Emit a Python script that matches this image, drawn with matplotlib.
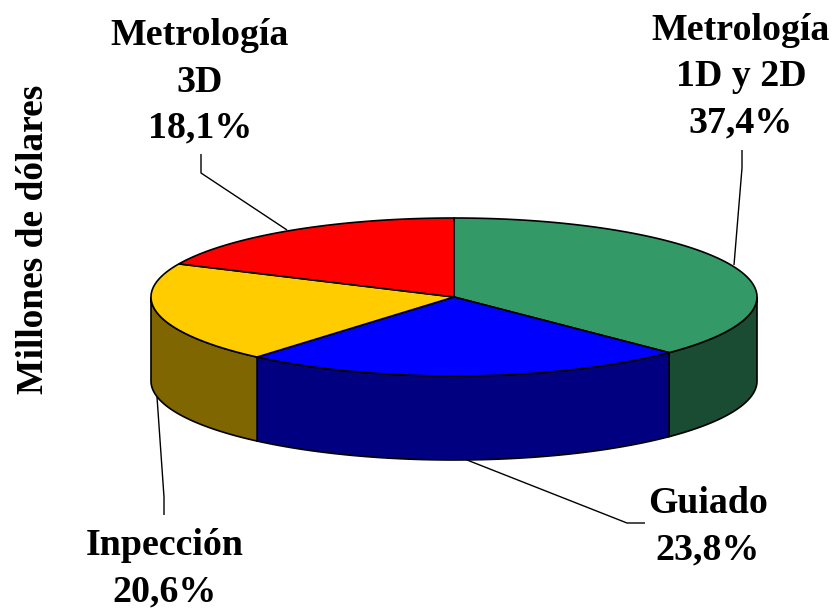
import numpy as np
import matplotlib
matplotlib.use("Agg")
import matplotlib.pyplot as plt
from matplotlib.patches import Polygon

plt.rcParams["font.family"] = ["Liberation Serif", "DejaVu Serif"]

labels = ["Metrología\n1D y 2D\n37,4%", "Guiado\n23,8%", "Inpección\n20,6%", "Metrología\n3D\n18,1%"]
shares = [37.4, 23.8, 20.6, 18.1]
top_colors = ["#339966", "#0000FF", "#FFCC00", "#FF0000"]
side_colors = ["#1A4C33", "#000080", "#806600", "#800000"]
ylabel = "Millones de dólares"

# pie geometry in pixels
cx, cy = 454, 297
rx, ry = 303, 79
depth = 84

label_pos = [(741, 77), (708, 527), (165, 569), (200, 82)]
leaders = [
    [(742, 150), (742, 168), (734, 265)],
    [(645, 523), (627, 523), (467, 460)],
    [(164, 515), (164, 497), (157, 397)],
    [(201, 154), (201, 173), (287, 230)],
]


def rim(a0, a1):
    # angles run clockwise from twelve o'clock
    t = np.radians(np.linspace(a0, a1, 200))
    return cx + rx * np.sin(t), cy - ry * np.cos(t)


fig = plt.figure(figsize=(8.37, 6.11), dpi=100)
ax = fig.add_axes([0, 0, 1, 1])
ax.set_xlim(0, 837)
ax.set_ylim(611, 0)
ax.axis("off")

total = sum(shares)
edges = np.concatenate([[0], np.cumsum(shares) / total * 360])

# leader lines sit behind the pie
for path in leaders:
    xs, ys = zip(*path)
    ax.plot(xs, ys, color="black", lw=1.0, solid_capstyle="butt", zorder=0)

# side wall, only the front half of the rim shows
for i in range(len(shares)):
    a0, a1 = max(edges[i], 90), min(edges[i + 1], 270)
    if a0 >= a1:
        continue
    x, y = rim(a0, a1)
    pts = np.column_stack([np.r_[x, x[::-1]], np.r_[y, y[::-1] + depth]])
    ax.add_patch(Polygon(pts, closed=True, fc=side_colors[i], ec="black", lw=1.2))

# top face
for i in range(len(shares)):
    x, y = rim(edges[i], edges[i + 1])
    pts = np.column_stack([np.r_[cx, x], np.r_[cy, y]])
    ax.add_patch(Polygon(pts, closed=True, fc=top_colors[i], ec="black", lw=1.2))

for text, (x, y) in zip(labels, label_pos):
    ax.text(x, y, text, ha="center", va="center", fontsize=27.3, fontweight="bold",
            linespacing=1.42)

ax.text(34, 239, ylabel, rotation=90, ha="center", va="center", fontsize=27, fontweight="bold")

fig.savefig("out.png", dpi=100)
